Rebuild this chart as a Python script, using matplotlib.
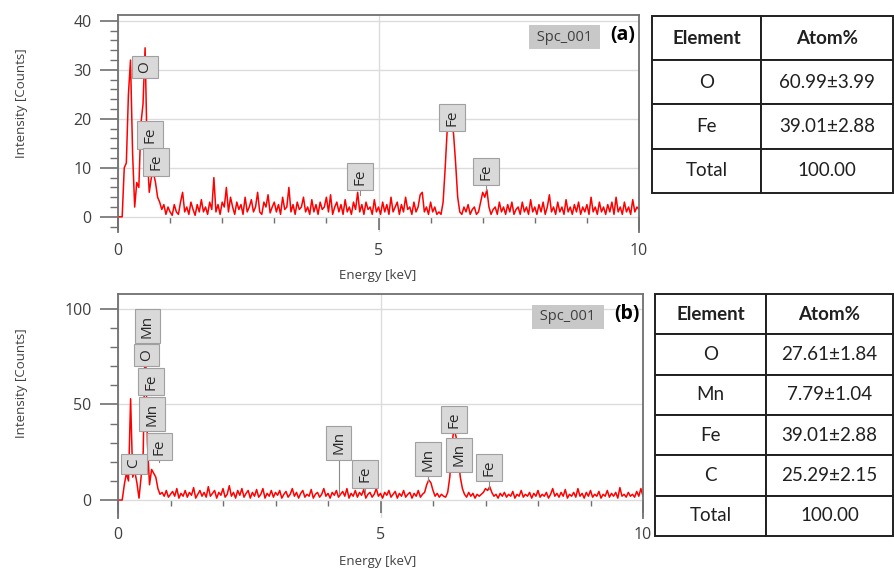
import numpy as np
import matplotlib
matplotlib.use('Agg')
import matplotlib.pyplot as plt
from matplotlib.ticker import MultipleLocator

# energy axis of the spectra (keV)
energy = np.round(np.arange(0, 10.001, 0.04), 2)

# spectrum (a), counts
counts_a = [
    0, 0, 0, 10, 11, 25, 32, 13, 2, 7,
    6, 19, 23, 34.5, 13, 5, 8, 9, 7, 4,
    3, 1.5, 2.5, 0.5, 2, 1, 0.3, 2.5, 1, 0.5,
    3, 5, 1, 2, 0.5, 3, 1.5, 0.3, 2.5, 1,
    3.5, 1, 2, 0.5, 3, 1.5, 8, 1, 2.5, 0.5,
    3, 2, 6, 1, 4, 2, 0.5, 3, 1.5, 2.5,
    0.5, 4, 1, 2, 3.5, 1, 2, 5, 1, 0.5,
    3, 2, 4.5, 0.8, 2, 3, 1, 2.5, 0.5, 4,
    1.5, 2, 6, 1, 2.5, 0.5, 3, 1.5, 2, 4,
    1, 2, 0.5, 3.5, 1, 2.5, 0.5, 3, 1.5, 2,
    4, 1, 4.5, 0.5, 2, 3, 1, 2.5, 0.5, 3.5,
    1, 2, 0.5, 3, 1.5, 5, 1, 2.5, 0.5, 3,
    1.5, 2, 0.5, 3.5, 1, 2, 0.5, 3, 1, 2.5,
    0.5, 4, 1, 2, 3, 0.5, 2.5, 1, 4, 1.5,
    2, 0.5, 3, 1, 2, 4.5, 5, 1, 2, 0.5,
    3, 1, 2, 0.5, 1, 0.5, 3, 10, 18, 20,
    19.5, 17, 11, 4, 1, 0.5, 2, 1, 2.5, 0.5,
    1.5, 2, 0.5, 1, 3, 5, 4, 5.5, 2, 0.5,
    1.5, 2, 0.5, 3, 1, 2, 0.5, 2.5, 1, 3,
    0.5, 1.5, 2, 0.5, 3, 1, 2, 0.5, 3.5, 1,
    2, 0.5, 2.5, 1, 3, 0.5, 2, 4.5, 1, 2,
    0.5, 3, 1, 2, 0.5, 3.5, 1, 2, 0.5, 2.5,
    1, 3, 0.5, 2, 1, 2.5, 0.5, 4, 1, 2,
    0.5, 3, 1, 2, 0.5, 2.5, 1, 3, 0.5, 4,
    1, 2, 0.5, 3, 1, 2, 0.5, 3.5, 1, 2,
    1.5,
]

# spectrum (b)
counts_b = [
    0, 0, 0, 8, 14, 10, 53, 12, 15, 9,
    1, 12, 25, 88, 30, 8, 16, 14, 12, 6,
    3, 4, 2, 5, 1.5, 3, 4.5, 2, 6, 1,
    3.5, 2, 5, 1.5, 4, 2.5, 6.5, 1, 3, 5,
    2, 4, 1.5, 7, 2, 3.5, 5, 1, 4, 2.5,
    6, 1.5, 3, 7.5, 2, 4, 1, 5, 2.5, 6,
    1.5, 3.5, 5, 1, 4, 2, 5.5, 1.5, 3, 6,
    1, 3.5, 2, 5, 1.5, 4, 2.5, 5, 1, 3,
    4.5, 1.5, 3, 6, 2, 4, 1, 3.5, 5, 1.5,
    3, 2, 5.5, 1, 3, 4, 1.5, 3, 6, 2,
    3.5, 1, 4, 2.5, 5, 1.5, 3, 4.5, 2, 6,
    1, 3.5, 2, 5, 1.5, 4, 2.5, 5.5, 1, 3,
    4, 1.5, 3, 6, 2, 3.5, 1, 4, 2.5, 5,
    1.5, 3, 4.5, 1, 3.5, 2, 5, 1.5, 3, 4,
    1, 3.5, 2, 5, 1.5, 3, 4, 8, 10.5, 9,
    5, 2, 3.5, 1.5, 3, 2, 1.5, 4, 12, 29,
    37.5, 33, 22, 12, 6, 3, 1.5, 4, 2, 3.5,
    1, 3, 2, 3, 4, 6, 5, 7, 4, 2,
    3, 1, 3.5, 2, 4, 1.5, 3, 2, 4.5, 1,
    3, 2, 5, 1.5, 3, 2, 4, 1, 3.5, 2,
    5, 1.5, 3, 2, 4, 1, 3, 6, 2, 3.5,
    1.5, 4, 2, 5.5, 1, 3, 2, 4, 1.5, 6,
    2, 3.5, 1, 4, 2, 5, 1.5, 3, 2, 4.5,
    1, 3, 2, 5, 1.5, 3.5, 2, 4, 1, 6.5,
    2, 3, 1.5, 4, 2, 3, 1.5, 4.5, 2, 6,
    2,
]

# peak markers: element, energy, label height, stem end
peaks_a = ['O', 'Fe', 'Fe', 'Fe', 'Fe', 'Fe']
peak_x_a = [0.52, 0.61, 0.73, 4.64, 6.41, 7.06]
peak_y_a = [30.6, 16.7, 11.2, 8.2, 20.2, 9.2]
stem_a = [30, 14, 9, 4.5, 19, 5.5]

peaks_b = ['Mn', 'O', 'Fe', 'Mn', 'Fe', 'C', 'Mn', 'Fe', 'Mn', 'Fe', 'Mn', 'Fe']
peak_x_b = [0.56, 0.54, 0.63, 0.65, 0.79, 0.30, 4.20, 4.70, 5.90, 6.40, 6.50, 7.07]
peak_y_b = [91, 76, 62, 45, 28, 19, 30, 13.6, 21.5, 42, 23.6, 17]
stem_b = [88, 70, 55, 40, 20, 14, 3, 3, 10, 37, 20, 6]

# composition tables
elements_a = ['O', 'Fe', 'Total']
atom_a = ['60.99\u00b13.99', '39.01\u00b12.88', '100.00']
elements_b = ['O', 'Mn', 'Fe', 'C', 'Total']
atom_b = ['27.61\u00b11.84', '7.79\u00b11.04', '39.01\u00b12.88', '25.29\u00b12.15', '100.00']

plt.rcParams['font.family'] = ['Open Sans', 'DejaVu Sans']
txt = '#404040'
frame = '#707070'

fig = plt.figure(figsize=(8.94, 5.70), dpi=100)


def spectrum(rect, counts, ylim, major, minor, names, px, py, stems, tag, ylab_y, xlab_y, xpad):
    ax = fig.add_axes(rect)
    ax.plot(energy, counts, color='red', lw=1.1, zorder=2)
    ax.set_xlim(0, 10)
    ax.set_ylim(*ylim)

    ax.spines['bottom'].set_position(('data', 0))
    ax.spines['bottom'].set_visible(False)
    for s in ['left', 'top', 'right']:
        ax.spines[s].set_color(frame)
        ax.spines[s].set_linewidth(1.3)

    ax.xaxis.set_major_locator(MultipleLocator(5))
    ax.xaxis.set_minor_locator(MultipleLocator(1))
    ax.yaxis.set_major_locator(MultipleLocator(major))
    ax.yaxis.set_minor_locator(MultipleLocator(minor))
    ax.tick_params(axis='y', which='major', length=13, width=1.2, color=frame,
                   labelsize=11.5, labelcolor=txt, pad=6)
    ax.tick_params(axis='y', which='minor', length=6, width=1, color=frame)
    ax.tick_params(axis='x', which='major', length=9.5, width=1.2, color=frame,
                   labelsize=11.5, labelcolor=txt, pad=xpad)
    ax.tick_params(axis='x', which='minor', length=4, width=1, color=frame)
    ax.set_yticks([t for t in ax.get_yticks() if 0 <= t <= ylim[1]])

    ax.grid(True, which='major', color='#dcdcdc', lw=1.0, zorder=0)
    ax.set_axisbelow(True)

    for name, x, y, s in zip(names, px, py, stems):
        ax.plot([x, x], [s, y], color='#8a8a8a', lw=0.8, zorder=3)
        ax.text(x, y, name, rotation=90, ha='center', va='center', fontsize=11,
                color='#2a2a2a', zorder=4,
                bbox=dict(boxstyle='square,pad=0.35', fc='#d9d9d9', ec='#a0a0a0', lw=0.8))

    ax.text(0.857, 0.898, ' Spc_001 ', transform=ax.transAxes, ha='center', va='center',
            fontsize=10.5, color=txt,
            bbox=dict(boxstyle='square,pad=0.3', fc='#c8c8c8', ec='none'))
    ax.text(0.993, 0.91, tag, transform=ax.transAxes, ha='right', va='center',
            fontsize=14, fontweight='bold', color='black')

    fig.text(22 / 894, 1 - ylab_y / 570, 'Intensity [Counts]', rotation=90,
             ha='center', va='center', fontsize=9.5, color=txt)
    fig.text(378 / 894, 1 - xlab_y / 570, 'Energy [keV]', ha='center', va='center',
             fontsize=9.5, color=txt)
    return ax


def table(rect, elements, atoms, widths):
    ax = fig.add_axes(rect)
    ax.axis('off')
    rows = [[e, a] for e, a in zip(elements, atoms)]
    tbl = ax.table(cellText=rows, colLabels=['Element', 'Atom%'], cellLoc='center',
                   bbox=[0, 0, 1, 1], colWidths=widths)
    tbl.auto_set_font_size(False)
    tbl.set_fontsize(13.5)
    for (r, c), cell in tbl.get_celld().items():
        cell.set_linewidth(1.4)
        cell.set_edgecolor('#202020')
        t = cell.get_text()
        t.set_fontfamily(['Lato', 'DejaVu Sans'])
        t.set_color('#202020')
        if r == 0:
            t.set_fontweight('bold')
    return ax


spectrum([118 / 894, 1 - 232 / 570, 521 / 894, 217 / 570], counts_a, (-3.1, 41.2), 10, 2,
         peaks_a, peak_x_a, peak_y_a, stem_a, '(a)', 103, 276, 9)
spectrum([118 / 894, 1 - 518 / 570, 525 / 894, 224 / 570], counts_b, (-9.4, 107.8), 50, 10,
         peaks_b, peak_x_b, peak_y_b, stem_b, '(b)', 383, 562, 10)

table([652 / 894, 1 - 193 / 570, 241 / 894, 177 / 570], elements_a, atom_a, [0.452, 0.548])
table([655 / 894, 1 - 536 / 570, 238 / 894, 242 / 570], elements_b, atom_b, [0.466, 0.534])

fig.savefig('out.png', dpi=100)
